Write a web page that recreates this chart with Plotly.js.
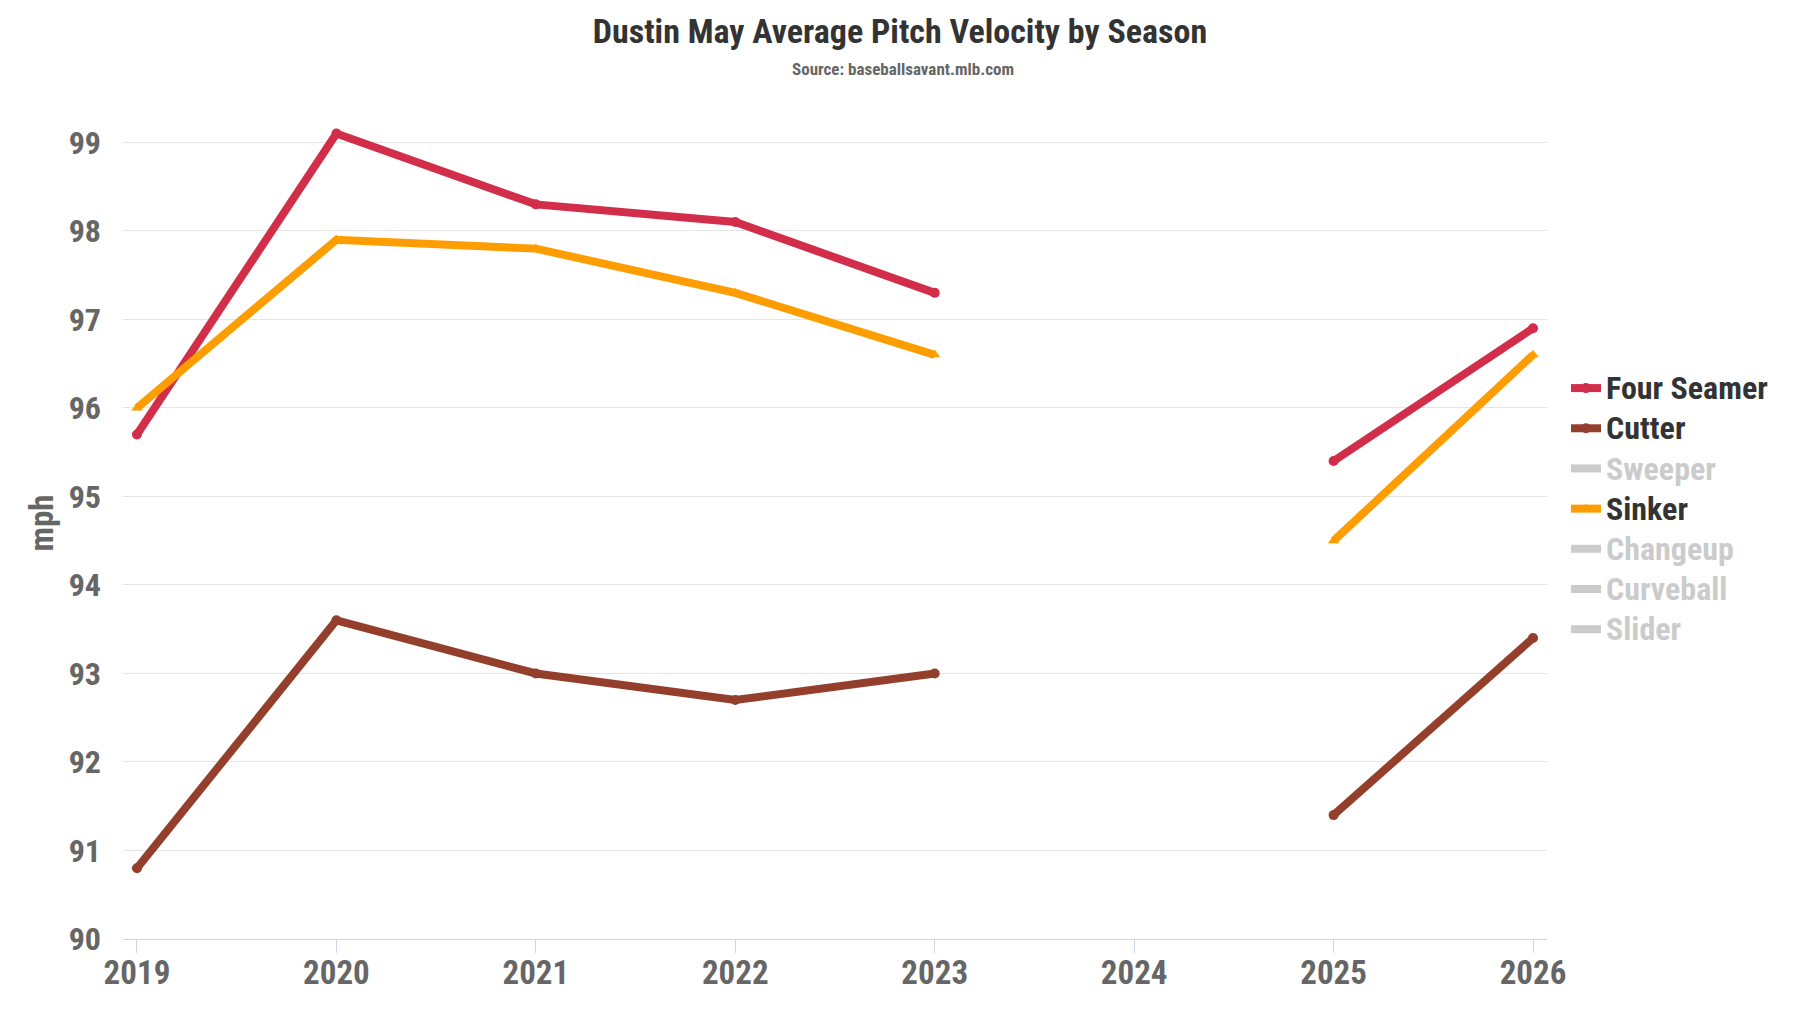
<!DOCTYPE html>
<html>
<head>
<meta charset="utf-8">
<script src="https://cdn.plot.ly/plotly-3.0.1.min.js"></script>
<style>html,body{margin:0;padding:0;background:#fff;}#chart{width:1800px;height:1013px;}</style>
</head>
<body>
<div id="chart"></div>
<script>
const seasons = [2019, 2020, 2021, 2022, 2023, 2024, 2025, 2026];
const fourSeamer = [95.7, 99.1, 98.3, 98.1, 97.3, null, 95.4, 96.9];
const cutter     = [90.8, 93.6, 93.0, 92.7, 93.0, null, 91.4, 93.4];
const sinker     = [96.0, 97.9, 97.8, 97.3, 96.6, null, 94.5, 96.6];
const hiddenPitches = ['Sweeper', 'Changeup', 'Curveball', 'Slider'];
const noValues = [null, null, null, null, null, null, null, null];
const yTicks = [90, 91, 92, 93, 94, 95, 96, 97, 98, 99];

const FONT = '"Roboto Condensed", "Liberation Sans Narrow", "Arial Narrow", "DejaVu Sans Condensed", sans-serif';

function shown(name, y, color, symbol) {
  return {
    type: 'scatter', mode: 'lines+markers',
    name: '<span style="font-size:32px">' + name + '</span>',
    x: seasons, y: y, connectgaps: false,
    line: {color: color, width: 8},
    marker: {color: color, size: 10, symbol: symbol},
    hovertemplate: name + ': %{y}<extra>%{x}</extra>'
  };
}
function hidden(name) {
  return {
    type: 'scatter', mode: 'lines',
    name: '<span style="font-size:32px;color:#999">' + name + '</span>',
    x: seasons, y: noValues, visible: 'legendonly',
    line: {color: '#999', width: 8}
  };
}

const traces = [
  shown('Four Seamer', fourSeamer, '#D22D49', 'circle'),
  shown('Cutter', cutter, '#933F2C', 'circle'),
  hidden(hiddenPitches[0]),
  shown('Sinker', sinker, '#FE9D00', 'triangle-up'),
  hidden(hiddenPitches[1]),
  hidden(hiddenPitches[2]),
  hidden(hiddenPitches[3])
];

const L = 123, R = 253, T = 107, B = 74;
const PW = 1800 - L - R, PH = 1013 - T - B;

const layout = {
  width: 1800, height: 1013,
  paper_bgcolor: '#ffffff', plot_bgcolor: '#ffffff',
  font: {family: FONT, color: '#333333'},
  margin: {l: L, r: R, t: T, b: B},
  title: {
    text: '<b>Dustin May Average Pitch Velocity by Season</b>',
    font: {family: FONT, size: 34, color: '#333333'},
    x: 0.5, xref: 'container', xanchor: 'center',
    y: 1 - 31 / 1013, yref: 'container', yanchor: 'middle'
  },
  annotations: [{
    text: '<b>Source: baseballsavant.mlb.com</b>',
    xref: 'paper', yref: 'paper', x: (903 - L) / PW, y: 1 + (T - 69) / PH,
    xanchor: 'center', yanchor: 'middle', showarrow: false,
    font: {family: FONT, size: 17, color: '#666666'}
  }],
  xaxis: {
    range: [2018.93, 2026.07],
    tickvals: seasons, ticktext: seasons.map(String),
    showgrid: false, zeroline: false,
    showline: true, linecolor: '#ccd6eb', linewidth: 1,
    ticks: 'outside', ticklen: 13, tickcolor: '#ccd6eb', tickwidth: 1,
    ticklabelstandoff: -9,
    tickfont: {family: FONT, size: 33, color: '#666666', weight: 'bold'},
    fixedrange: true
  },
  yaxis: {
    range: [90, 99.4],
    tickvals: yTicks, ticktext: yTicks.map(String),
    showgrid: true, gridcolor: '#e6e6e6', gridwidth: 1,
    zeroline: false, showline: false, ticks: '',
    ticklabelstandoff: 21,
    tickfont: {family: FONT, size: 32, color: '#666666', weight: 'bold'},
    title: {text: '<b>mph</b>', font: {family: FONT, size: 33, color: '#666666'}, standoff: 5},
    fixedrange: true
  },
  legend: {
    xref: 'container', yref: 'container',
    x: 1566 / 1800, xanchor: 'left',
    y: 1 - 509 / 1013, yanchor: 'middle',
    font: {family: FONT, size: 28.6, color: '#333333', weight: 'bold'},
    itemwidth: 30, tracegroupgap: 0,
    bgcolor: 'rgba(0,0,0,0)', borderwidth: 0
  },
  showlegend: true
};

Plotly.newPlot('chart', traces, layout, {displayModeBar: false});
</script>
</body>
</html>
